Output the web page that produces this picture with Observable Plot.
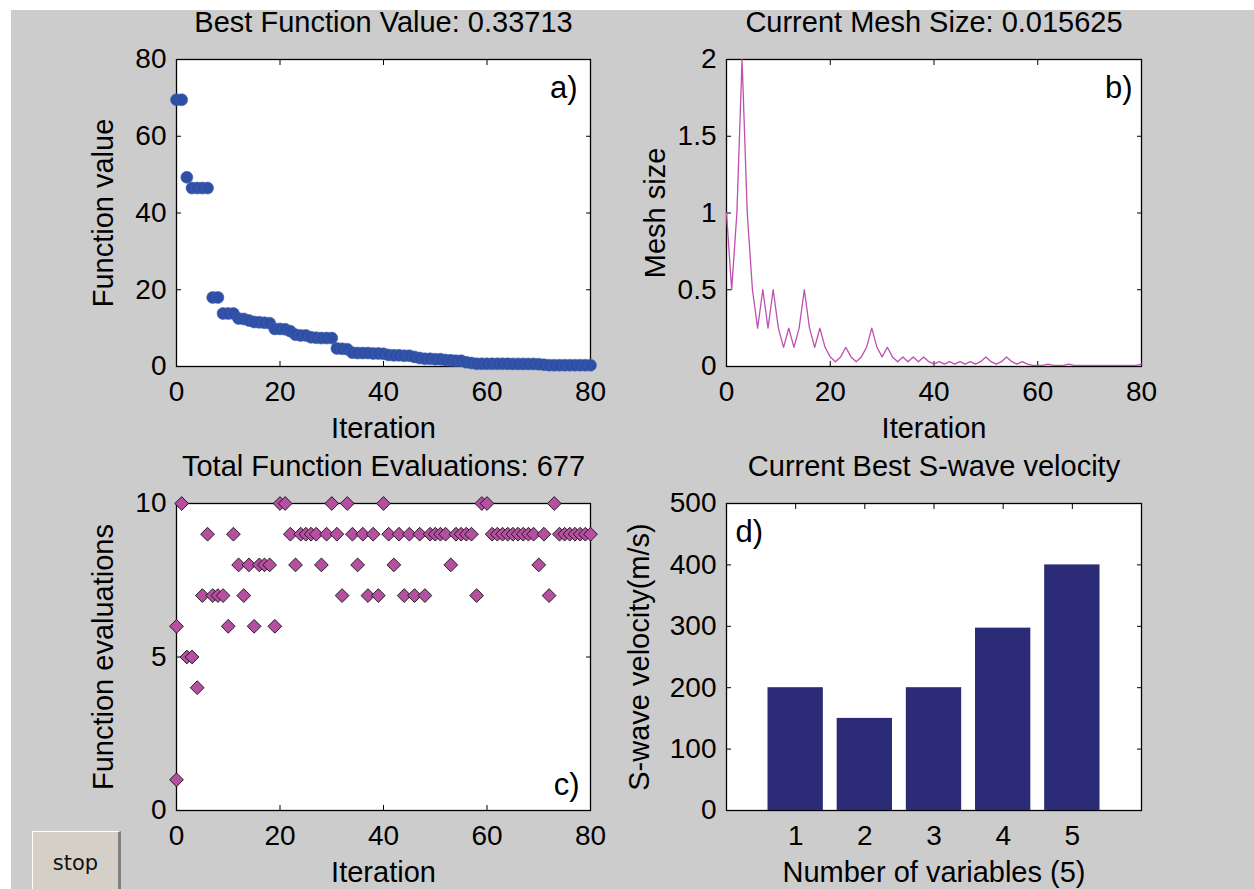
<!DOCTYPE html>
<html>
<head>
<meta charset="utf-8">
<script src="https://cdn.jsdelivr.net/npm/d3@7"></script>
<script src="https://cdn.jsdelivr.net/npm/@observablehq/plot@0.6"></script>
<style>
  html, body { margin: 0; padding: 0; background: #ffffff; }
  #fig { position: relative; width: 1254px; height: 889px; overflow: hidden; background: #ffffff; }
  #bg { position: absolute; left: 11px; top: 10px; right: 0; bottom: 0; background: #cccccc; }
  #stop { position: absolute; left: 32px; top: 831px; width: 85px; height: 70px; background: #d4d0c8;
          border-top: 1px solid #ffffff; border-left: 1px solid #ffffff; border-right: 3px solid #808080; }
  #stop span { position: absolute; left: 0; right: 0; top: 19px; text-align: center;
               font-family: 'DejaVu Sans', sans-serif; font-size: 21px; line-height: 24px; color: #111; }
</style>
</head>
<body>
<div id="fig"><div id="bg"></div></div>
<script>
// ---------- data ----------
const iterTicks = [0, 20, 40, 60, 80];

// a) best function value per iteration (0..80)
const bestValue = [69.5, 69.5, 49.3, 46.5, 46.5, 46.5, 46.5, 18, 18, 13.8,
  13.8, 13.8, 12.5, 12.4, 12.0, 11.6, 11.5, 11.4, 11.3, 9.8,
  9.8, 9.7, 9.2, 8.3, 8.1, 8.1, 7.6, 7.5, 7.4, 7.4,
  7.4, 4.7, 4.6, 4.5, 3.6, 3.5, 3.5, 3.5, 3.4, 3.4,
  3.3, 3.0, 2.9, 2.9, 2.8, 2.8, 2.5, 2.2, 2.0, 2.0,
  1.9, 1.9, 1.7, 1.6, 1.5, 1.5, 1.1, 0.9, 0.72, 0.7,
  0.7, 0.7, 0.7, 0.7, 0.7, 0.68, 0.68, 0.68, 0.66, 0.66,
  0.6, 0.45, 0.34, 0.34, 0.34, 0.34, 0.34, 0.34, 0.34, 0.34,
  0.33713];
const valueTicks = [0, 20, 40, 60, 80];

// b) mesh size per iteration (0..80)
const meshSize = [1, 0.5, 1, 2, 1, 0.5, 0.25, 0.5, 0.25, 0.5,
  0.25, 0.125, 0.25, 0.125, 0.25, 0.5, 0.25, 0.125, 0.25, 0.125,
  0.0625, 0.03125, 0.0625, 0.125, 0.0625, 0.03125, 0.0625, 0.125, 0.25, 0.125,
  0.0625, 0.125, 0.0625, 0.03125, 0.0625, 0.03125, 0.0625, 0.03125, 0.0625, 0.03125,
  0.015625, 0.03125, 0.015625, 0.03125, 0.015625, 0.03125, 0.015625, 0.03125, 0.015625, 0.03125,
  0.0625, 0.03125, 0.015625, 0.03125, 0.0625, 0.03125, 0.015625, 0.03125, 0.015625, 0.0078125,
  0.0078125, 0.0078125, 0.015625, 0.0078125, 0.0078125, 0.0078125, 0.015625, 0.0078125, 0.0078125, 0.0078125,
  0.0078125, 0.0078125, 0.0078125, 0.0078125, 0.0078125, 0.0078125, 0.0078125, 0.0078125, 0.0078125, 0.0078125,
  0.015625];
const meshTicks = [0, 0.5, 1, 1.5, 2];

// c) function evaluations per iteration (0..80), plus the initial evaluation at iteration 0
const initialEvals = 1;
const evalsPerIter = [6, 10, 5, 5, 4, 7, 9, 7, 7, 7,
  6, 9, 8, 7, 8, 6, 8, 8, 8, 6,
  10, 10, 9, 8, 9, 9, 9, 9, 8, 9,
  10, 9, 7, 10, 9, 8, 9, 7, 9, 7,
  10, 9, 8, 9, 7, 9, 7, 9, 7, 9,
  9, 9, 9, 8, 9, 9, 9, 9, 7, 10,
  10, 9, 9, 9, 9, 9, 9, 9, 9, 9,
  8, 9, 7, 10, 9, 9, 9, 9, 9, 9,
  9];
const evalTicks = [0, 5, 10];

// d) current best S-wave velocity
const variables = [1, 2, 3, 4, 5];
const sVelocity = [200, 150, 200, 297, 400];
const velTicks = [0, 100, 200, 300, 400, 500];

// ---------- tables ----------
const bestData = bestValue.map((v, i) => ({iter: i, value: v}));
const meshData = meshSize.map((v, i) => ({iter: i, mesh: v}));
const evalData = [{iter: 0, n: initialEvals}, ...evalsPerIter.map((n, i) => ({iter: i, n}))];
const velData = variables.map((v, i) => ({v, vel: sVelocity[i]}));

// ---------- drawing ----------
const FONT = "'Liberation Sans', Arial, Helvetica, sans-serif";
const W = 1254, H = 889, FS = 28, FT = 29;
const fmt = d => String(d);

function panel(o) {
  const [L, T, R, B] = o.frame;
  return Plot.plot({
    width: W, height: H,
    marginLeft: L, marginTop: T, marginRight: W - R, marginBottom: H - B,
    style: `position:absolute;left:0;top:0;background:transparent;overflow:visible;font-family:${FONT};color:black;`,
    x: {domain: o.xDomain, label: null},
    y: {domain: o.yDomain, label: null},
    marks: [
      Plot.frame({fill: "white", stroke: "none"}),
      Plot.frame({stroke: "black", strokeWidth: 1.3}),
      Plot.axisX(o.xTicks, {anchor: "bottom", tickSize: -5, tickFormat: () => "", label: null}),
      Plot.axisX(o.xTicks, {anchor: "top", tickSize: -5, tickFormat: () => "", label: null}),
      Plot.axisY(o.yTicks, {anchor: "left", tickSize: -5, tickFormat: () => "", label: null}),
      Plot.axisY(o.yTicks, {anchor: "right", tickSize: -5, tickFormat: () => "", label: null}),
      Plot.axisX(o.xTicks, {anchor: "bottom", tickSize: 0, tickPadding: 15, tickFormat: fmt, label: null, fontSize: FS, fill: "black"}),
      Plot.axisY(o.yTicks, {anchor: "left", tickSize: 0, tickPadding: 10, tickFormat: fmt, label: null, fontSize: FS, fill: "black"}),
      ...o.marks,
      Plot.text([o.title], {frameAnchor: "top", dy: -37, textAnchor: "middle", lineAnchor: "middle", fontSize: FT, fill: "black"}),
      Plot.text([o.xLabel], {frameAnchor: "bottom", dy: 62, textAnchor: "middle", lineAnchor: "middle", fontSize: FT, fill: "black"}),
      Plot.text([o.yLabel], {frameAnchor: "left", dx: o.yLabelDx, rotate: -90, textAnchor: "middle", lineAnchor: "middle", fontSize: FT, fill: "black"}),
      Plot.text([o.tag], {frameAnchor: o.tagAnchor, dx: o.tagDx, dy: o.tagDy, textAnchor: o.tagTextAnchor, lineAnchor: "middle", fontSize: 31, fill: "black"})
    ]
  });
}

const fig = document.getElementById("fig");

fig.appendChild(panel({
  frame: [176, 59, 590, 366], xDomain: [0, 80], yDomain: [0, 80],
  xTicks: iterTicks, yTicks: valueTicks,
  title: "Best Function Value: 0.33713", xLabel: "Iteration", yLabel: "Function value", yLabelDx: -73,
  tag: "a)", tagAnchor: "top-right", tagDx: -13, tagDy: 29, tagTextAnchor: "end",
  marks: [Plot.dot(bestData, {x: "iter", y: "value", r: 6, fill: "#2e4fa5", stroke: "#4763b0", strokeWidth: 0.6})]
}));

fig.appendChild(panel({
  frame: [726, 59, 1141, 366], xDomain: [0, 80], yDomain: [0, 2],
  xTicks: iterTicks, yTicks: meshTicks,
  title: "Current Mesh Size: 0.015625", xLabel: "Iteration", yLabel: "Mesh size", yLabelDx: -71,
  tag: "b)", tagAnchor: "top-right", tagDx: -9, tagDy: 29, tagTextAnchor: "end",
  marks: [Plot.line(meshData, {x: "iter", y: "mesh", stroke: "#bf4fae", strokeWidth: 1.3})]
}));

fig.appendChild(panel({
  frame: [176, 503, 590, 810], xDomain: [0, 80], yDomain: [0, 10],
  xTicks: iterTicks, yTicks: evalTicks,
  title: "Total Function Evaluations: 677", xLabel: "Iteration", yLabel: "Function evaluations", yLabelDx: -73,
  tag: "c)", tagAnchor: "bottom-right", tagDx: -11, tagDy: -25, tagTextAnchor: "end",
  marks: [Plot.dot(evalData, {x: "iter", y: "n", symbol: "diamond2", r: 6.2, fill: "#b54fa0", stroke: "#111", strokeWidth: 0.9})]
}));

fig.appendChild(panel({
  frame: [726, 503, 1141, 810], xDomain: [0, 6], yDomain: [0, 500],
  xTicks: variables, yTicks: velTicks,
  title: "Current Best S-wave velocity", xLabel: "Number of variables (5)", yLabel: "S-wave velocity(m/s)", yLabelDx: -87,
  tag: "d)", tagAnchor: "top-left", tagDx: 9, tagDy: 29, tagTextAnchor: "start",
  marks: [Plot.rectY(velData, {x1: d => d.v - 0.4, x2: d => d.v + 0.4, y: "vel", fill: "#2b2b77"})]
}));

const stop = document.createElement("div");
stop.id = "stop";
stop.innerHTML = "<span>stop</span>";
fig.appendChild(stop);
</script>
</body>
</html>
